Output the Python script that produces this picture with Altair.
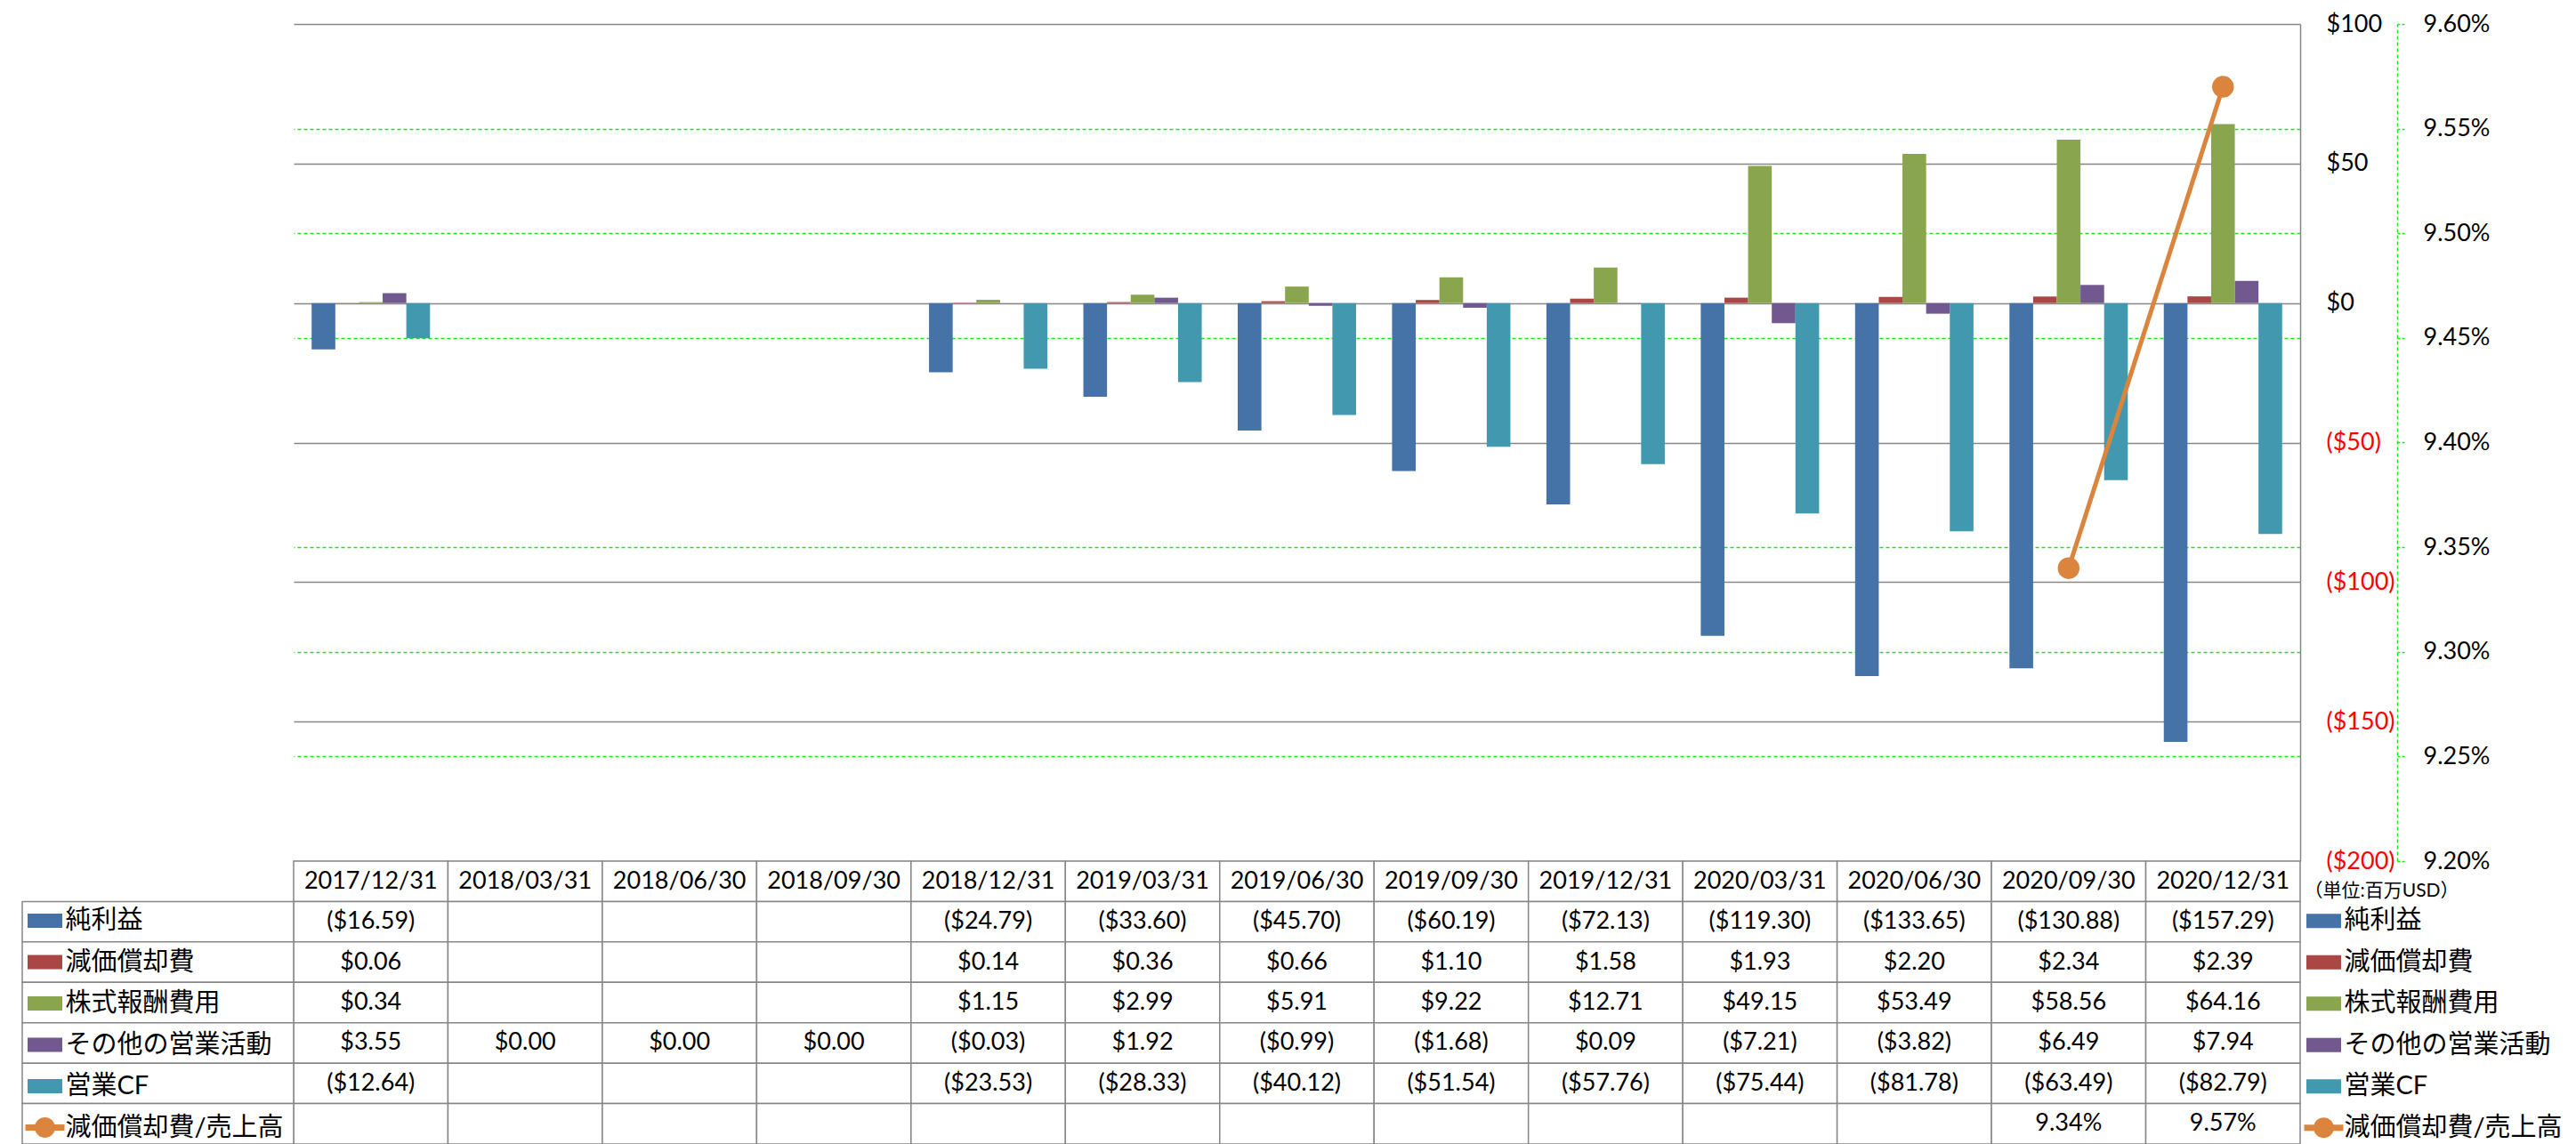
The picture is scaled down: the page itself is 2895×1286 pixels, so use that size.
import altair as alt
import pandas as pd

# ---------------- data ----------------
dates = ["2017/12/31", "2018/03/31", "2018/06/30", "2018/09/30", "2018/12/31",
         "2019/03/31", "2019/06/30", "2019/09/30", "2019/12/31", "2020/03/31",
         "2020/06/30", "2020/09/30", "2020/12/31"]
bar_series = ["純利益", "減価償却費", "株式報酬費用", "その他の営業活動", "営業CF"]
line_series = "減価償却費/売上高"
all_series = bar_series + [line_series]

net_income = [-16.59, None, None, None, -24.79, -33.60, -45.70, -60.19, -72.13,
              -119.30, -133.65, -130.88, -157.29]
depreciation = [0.06, None, None, None, 0.14, 0.36, 0.66, 1.10, 1.58, 1.93, 2.20, 2.34, 2.39]
stock_comp = [0.34, None, None, None, 1.15, 2.99, 5.91, 9.22, 12.71, 49.15, 53.49, 58.56, 64.16]
other_ops = [3.55, 0.00, 0.00, 0.00, -0.03, 1.92, -0.99, -1.68, 0.09, -7.21, -3.82, 6.49, 7.94]
operating_cf = [-12.64, None, None, None, -23.53, -28.33, -40.12, -51.54, -57.76,
                -75.44, -81.78, -63.49, -82.79]
dep_ratio_pct = [None, None, None, None, None, None, None, None, None, None, None, 9.34, 9.57]

usd_ticks = [-200, -150, -100, -50, 0, 50, 100]
pct_ticks = [9.20, 9.25, 9.30, 9.35, 9.40, 9.45, 9.50, 9.55, 9.60]
unit_label = "（単位:百万USD）"

colors = ["#4572A7", "#AA4643", "#89A54E", "#71588F", "#4198AF", "#DB843D"]
ORANGE = "#DB843D"
GRAY = "#878787"
GREEN = "#19E619"
FONT = "Lato, 'Noto Sans CJK JP', sans-serif"

PLOT_W = 2255
PLOT_H = 941
TABLE_BOTTOM = 1259

# ---------------- tables ----------------
rows = []
for name, vals in zip(bar_series, [net_income, depreciation, stock_comp, other_ops, operating_cf]):
    for d, v in zip(dates, vals):
        rows.append({"date": d, "series": name, "value": v, "kind": "usd"})
for d, v in zip(dates, dep_ratio_pct):
    rows.append({"date": d, "series": line_series, "value": v, "kind": "pct"})
long_df = pd.DataFrame(rows)

header_df = pd.DataFrame({"date": dates, "series": "__header__"})
cells_df = pd.concat([header_df, long_df[["date", "series"]]], ignore_index=True)
labelcol_df = pd.DataFrame({"series": all_series, "col": "label"})
legend_df = pd.DataFrame({"series": all_series})

# ---------------- scales ----------------
X_SCALE = alt.Scale(domain=dates, paddingInner=0, paddingOuter=0)
ROW_SCALE = alt.Scale(domain=["__header__"] + all_series, range=[PLOT_H, TABLE_BOTTOM],
                      paddingInner=0, paddingOuter=0)
USD_SCALE = alt.Scale(domain=[-200, 100], nice=False, zero=False)
PCT_SCALE = alt.Scale(domain=[9.20, 9.60], nice=False, zero=False)
COLOR_SCALE = alt.Scale(domain=all_series, range=colors)

bar_path = "M-0.886,-0.364L0.886,-0.364L0.886,0.364L-0.886,0.364Z"
line_path = ("M-1,-0.16L-0.495,-0.16A0.52,0.52,0,0,1,0.495,-0.16L1,-0.16L1,0.16"
             "L0.495,0.16A0.52,0.52,0,0,1,-0.495,0.16L-1,0.16Z")
SHAPE_SCALE = alt.Scale(domain=all_series, range=[bar_path] * 5 + [line_path])

x_enc = alt.X("date:N", scale=X_SCALE, axis=None)
row_enc = alt.Y("series:N", scale=ROW_SCALE, axis=None)

usd_axis = alt.Axis(
    orient="right", values=usd_ticks, format="($.0f", title=None,
    labelAlign="left", labelBaseline="middle", labelPadding=29, labelFontSize=27, labelFont=FONT,
    labelColor={"condition": {"test": "datum.value < 0", "value": "#FF0000"}, "value": "#000000"},
    ticks=False, tickSize=0, domain=True, domainColor=GRAY, domainWidth=1.5,
    grid=True, gridColor=GRAY, gridWidth=1.5,
)
pct_axis = alt.Axis(
    orient="right", offset=109, values=pct_ticks, title=None,
    labelExpr="format(datum.value, '.2f') + '%'",
    labelAlign="left", labelBaseline="middle", labelPadding=19, labelFontSize=27, labelFont=FONT,
    labelColor="#000000",
    ticks=True, tickSize=10, tickColor=GREEN, tickDash=[3, 2], tickWidth=1.5,
    domain=True, domainColor=GREEN, domainDash=[4, 3], domainWidth=1.5,
    grid=True, gridColor=GREEN, gridDash=[4, 3], gridWidth=1.5,
    gridOpacity={"condition": {"test": "indexof([9.2, 9.4, 9.6], datum.value) >= 0", "value": 0},
                 "value": 1},
)

# ---------------- plot ----------------
bars = alt.Chart(long_df).transform_filter(
    "datum.kind == 'usd' && isValid(datum.value)"
).mark_bar().encode(
    x=x_enc,
    xOffset=alt.XOffset("series:N", scale=alt.Scale(domain=bar_series, paddingInner=0, paddingOuter=0.76)),
    y=alt.Y("value:Q", scale=USD_SCALE, axis=usd_axis, stack=None),
    color=alt.Color("series:N", scale=COLOR_SCALE, legend=None),
)

ratio_base = alt.Chart(long_df).transform_filter("datum.kind == 'pct' && isValid(datum.value)")
line = ratio_base.mark_line(color=ORANGE, strokeWidth=5).encode(
    x=x_enc, y=alt.Y("value:Q", scale=PCT_SCALE, axis=pct_axis))
points = ratio_base.mark_circle(color=ORANGE, size=600, opacity=1).encode(
    x=x_enc, y=alt.Y("value:Q", scale=PCT_SCALE, axis=None))

# ---------------- data table ----------------
cells = alt.Chart(cells_df).mark_rect(fill="white", stroke=GRAY, strokeWidth=1.5).encode(
    x=x_enc, y=row_enc)
labelcol = alt.Chart(labelcol_df).mark_rect(fill="white", stroke=GRAY, strokeWidth=1.5).encode(
    x=alt.X("col:N", scale=alt.Scale(domain=["label"], range=[-305, 0], paddingInner=0, paddingOuter=0),
            axis=None),
    y=row_enc)
header_text = alt.Chart(header_df).mark_text(fontSize=27, font=FONT, color="black").encode(
    x=x_enc, y=row_enc, text="date:N")
cell_text = alt.Chart(long_df).transform_filter("isValid(datum.value)").transform_calculate(
    label="datum.kind == 'pct' ? format(datum.value, '.2f') + '%' : format(datum.value, '($.2f')"
).mark_text(fontSize=27, font=FONT, color="black").encode(
    x=x_enc, y=row_enc, text="label:N")


def legend_layer(**kw):
    leg = alt.Legend(orient="none", direction="vertical", symbolSize=1936, symbolStrokeWidth=0,
                     symbolOpacity=1, labelFontSize=29, labelFont=FONT, labelColor="black",
                     labelOffset=1, labelLimit=500, rowPadding=9.5, padding=0, **kw)
    return alt.Chart(legend_df).mark_point(filled=True, opacity=0).encode(
        color=alt.Color("series:N", scale=COLOR_SCALE, legend=leg),
        shape=alt.Shape("series:N", scale=SHAPE_SCALE, legend=leg),
    )


left_legend = legend_layer(legendX=-301.5, legendY=986, title=None)
right_legend = legend_layer(legendX=2259.5, legendY=963.5, title=unit_label, titleFontSize=21,
                            titleFont=FONT, titleFontWeight="normal", titleColor="black",
                            titlePadding=1.75, titleLimit=500)

chart = alt.layer(
    bars, line, points, cells, labelcol, header_text, cell_text, left_legend, right_legend
).resolve_scale(
    x="independent", y="independent"
).resolve_legend(
    color="independent", shape="independent"
).properties(
    width=PLOT_W, height=PLOT_H,
    padding={"left": 16, "top": 5, "right": 5, "bottom": 0},
).configure_view(stroke=None)

chart.save("out.html", embed_options={"renderer": "svg", "actions": False})
